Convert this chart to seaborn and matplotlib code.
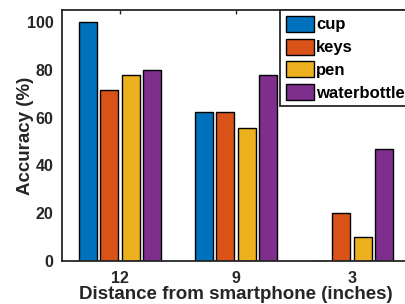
import matplotlib
matplotlib.use("Agg")
import matplotlib.pyplot as plt
import seaborn as sns
import pandas as pd

distances = ["12", "9", "3"]
objects = ["cup", "keys", "pen", "waterbottle"]
cup = [100.0, 62.5, 0.0]
keys = [71.4, 62.5, 20.0]
pen = [77.8, 55.6, 10.0]
waterbottle = [80.0, 77.8, 46.7]
colors = ["#0072BD", "#D95319", "#EDB120", "#7E2F8E"]
yticks = [0, 20, 40, 60, 80, 100]

rows = []
for name, vals in zip(objects, [cup, keys, pen, waterbottle]):
    for d, v in zip(distances, vals):
        rows.append({"Distance": d, "Object": name, "Accuracy": v})
df = pd.DataFrame(rows)

sns.set_style("white")
plt.rcParams["font.family"] = ["Liberation Sans", "DejaVu Sans"]
plt.rcParams["font.weight"] = "bold"

fig = plt.figure(figsize=(4.06, 3.04), dpi=100)
W, H = 406, 304
ax = fig.add_axes([62 / W, 43 / H, (410 - 62) / W, (261 - 10) / H])

sns.barplot(data=df, x="Distance", y="Accuracy", hue="Object",
            order=distances, hue_order=objects, palette=colors,
            width=0.74, gap=0.18, edgecolor="black", linewidth=1.0,
            saturation=1, errorbar=None, ax=ax)

ax.set_xlim(-0.5, 2.5)
ax.set_ylim(0, 105)
ax.set_yticks(yticks)
ax.set_yticklabels([str(t) for t in yticks])
axcol = "#262626"
for s in ax.spines.values():
    s.set_color(axcol)
    s.set_linewidth(1.3)
ax.tick_params(axis="both", which="both", direction="in", top=True, right=True,
               length=3, width=1.0, color=axcol, labelsize=11.5, labelcolor=axcol)
ax.tick_params(axis="y", pad=6)
ax.tick_params(axis="x", pad=7.5)
for lab in ax.get_xticklabels() + ax.get_yticklabels():
    lab.set_fontweight("bold")
ax.set_xlabel("Distance from smartphone (inches)", fontsize=13.5, fontweight="bold",
              color=axcol, labelpad=-0.5)
ax.set_ylabel("Accuracy (%)", fontsize=13.5, fontweight="bold", color=axcol, labelpad=-5)

leg = ax.legend(loc="upper left", bbox_to_anchor=(280 / W, 1 - 10 / H),
                bbox_transform=fig.transFigure, borderaxespad=0,
                fancybox=False, edgecolor=axcol, framealpha=1,
                prop={"weight": "bold", "size": 12},
                handlelength=1.68, handleheight=1.1, handletextpad=0.15,
                labelspacing=0.36, borderpad=0.35, title=None)
leg.get_frame().set_linewidth(1.3)
for t in leg.get_texts():
    t.set_color("black")

fig.savefig("out.png", dpi=100)
